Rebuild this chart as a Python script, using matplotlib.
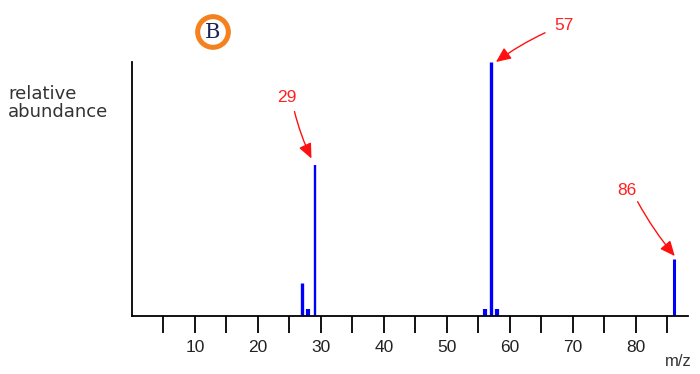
import matplotlib.pyplot as plt

# mass spectrum peaks (m/z, relative abundance)
mz = [27, 28, 29, 56, 57, 58, 86]
abundance = [13, 2.8, 59.5, 2.8, 100, 2.8, 22.5]
widths = [2.4, 3.0, 1.7, 3.0, 2.4, 3.0, 2.2]

# labelled peaks: (label, text pos, arrow start, arrow end)
labels = ["29", "57", "86"]
text_pos = [(24.6, 86.0), (68.6, 114.5), (78.6, 49.5)]
arrow_from = [(25.8, 80.5), (65.6, 111.5), (80.3, 45.0)]
arrow_to = [(28.5, 62.0), (57.8, 100.0), (86.2, 23.6)]

major = [10, 20, 30, 40, 50, 60, 70, 80]
minor = [5, 15, 25, 35, 45, 55, 65, 75, 85]
grey_ticks = [5, 25, 40, 75]

plt.rcParams['font.family'] = ['Liberation Sans', 'DejaVu Sans']

fig = plt.figure(figsize=(7, 3.74), dpi=100)
ax = fig.add_axes([132/700, 58/374, 556/700, 254/374])

for x, y, w in zip(mz, abundance, widths):
    ax.vlines(x, 0, y, color='#0000ff', lw=w)

ax.set_xlim(0, 88.3)
ax.set_ylim(0, 100)
ax.spines['top'].set_visible(False)
ax.spines['right'].set_visible(False)
ax.spines['left'].set_linewidth(1.3)
ax.spines['bottom'].set_linewidth(1.3)
ax.set_yticks([])
ax.set_xticks(major)
ax.set_xticks(minor, minor=True)
ax.tick_params(axis='x', which='both', direction='out', length=12.5, width=1.3,
               labelsize=12.5, pad=5, labelcolor='#222222')
for t in ax.xaxis.get_major_ticks() + ax.xaxis.get_minor_ticks():
    if t.get_loc() in grey_ticks:
        t.tick1line.set_color('#999999')

for lab, tp, a0, a1 in zip(labels, text_pos, arrow_from, arrow_to):
    ax.text(tp[0], tp[1], lab, color='#ff2020', fontsize=12.5,
            ha='center', va='center', clip_on=False)
    ax.annotate('', xy=a1, xytext=a0, annotation_clip=False,
                arrowprops=dict(arrowstyle='-|>,head_length=0.9,head_width=0.4',
                                color='#ff1010', lw=1.0, shrinkA=0, shrinkB=0,
                                connectionstyle='arc3,rad=0.05'))

fig.text(8/700, 1 - 103/374, "relative\nabundance", fontsize=13,
         family='DejaVu Sans', color='#333333', va='center', ha='left',
         linespacing=1.05)
fig.text(678/700, 1 - 362/374, "m/z", fontsize=12, color='#333333',
         ha='center', va='center')
fig.text(213/700, 1 - 32/374, "B", fontsize=15, family='DejaVu Serif',
         color='#1c2555', ha='center', va='center',
         bbox=dict(boxstyle='circle,pad=0.28', fc='white', ec='#f5801e', lw=3.6))

fig.savefig('out.png')
